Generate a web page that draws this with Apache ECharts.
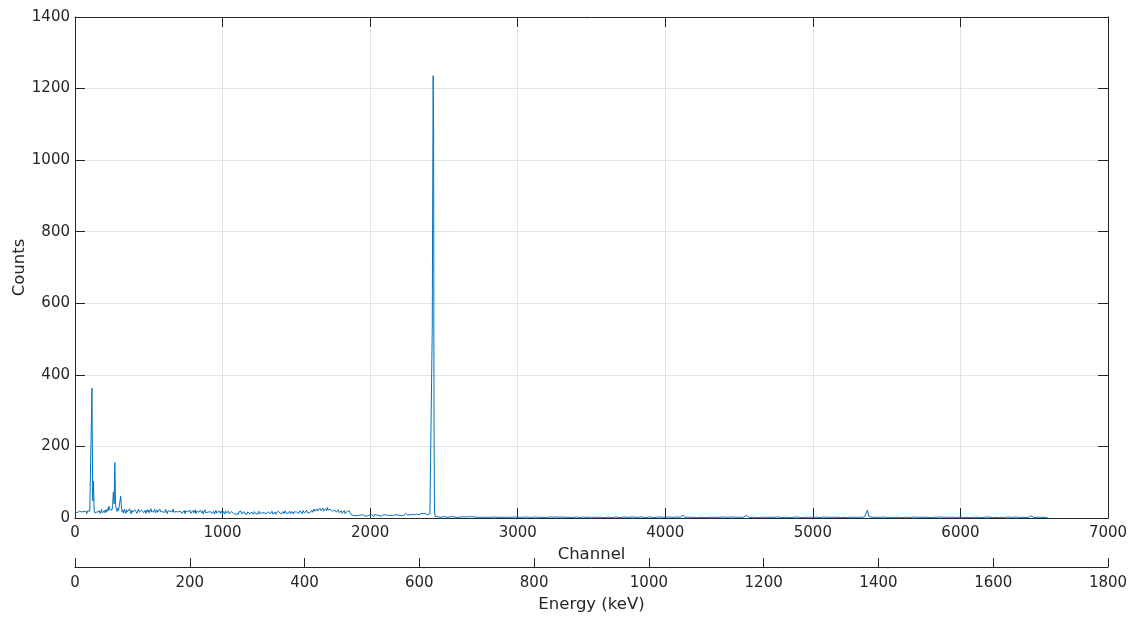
<!DOCTYPE html>
<html>
<head>
<meta charset="utf-8">
<title>Spectrum</title>
<script src="https://cdn.jsdelivr.net/npm/echarts@6/dist/echarts.min.js"></script>
<style>
  html, body { margin: 0; padding: 0; background: #ffffff; }
  #chart { width: 1137px; height: 618px; }
</style>
</head>
<body>
<div id="chart"></div>
<script>
// Low-energy part of the spectrum: channels 0 .. 2410 in 5-channel steps
const lowStart = 0;
const lowStep = 5;
const lowCounts = [
  18,13,22,15,20,12,19,24,14,17,21,13,18,23,15,19,12,20,16,22,
  19,24,16,363,48,103,21,14,19,12,17,22,15,20,13,18,24,14,19,16,
  21,14,23,17,26,20,33,24,19,27,22,35,73,40,155,36,24,18,27,21,
  17,24,61,28,16,22,14,25,19,13,23,17,21,15,26,18,12,22,16,20,
  14,23,18,21,13,19,25,16,20,12,22,17,24,15,19,21,13,18,23,16,
  22,15,20,26,17,13,21,18,24,14,19,23,16,20,12,25,18,15,22,17,
  13,21,16,24,18,12,20,23,15,19,14,22,17,25,16,13,21,18,15,20,
  17,22,14,19,24,13,18,16,21,12,20,15,23,17,14,19,22,13,18,16,
  21,14,17,23,12,19,15,20,16,13,22,18,14,20,11,17,23,15,18,13,
  16,20,12,18,15,22,13,17,19,11,16,21,14,18,12,20,15,13,19,16,
  12,18,15,11,20,14,17,13,19,12,16,10,18,14,21,12,15,17,11,16,
  14,10,17,13,16,19,11,15,13,18,12,16,14,10,17,13,19,12,15,11,
  16,13,10,18,14,12,17,15,11,19,13,16,12,14,18,10,15,13,17,12,
  15,11,17,13,16,12,14,19,11,15,13,17,10,16,14,12,18,13,15,11,
  16,13,18,12,15,20,14,11,17,13,16,19,12,15,18,14,11,17,15,13,
  17,14,19,13,16,20,15,18,12,21,16,14,19,17,22,15,18,20,14,19,
  18,22,16,21,25,19,23,17,26,20,24,18,27,21,25,22,28,19,24,21,
  26,20,29,22,25,18,24,21,27,19,23,17,22,20,16,21,18,23,15,19,
  16,20,13,18,15,21,12,17,14,19,22,18,20,14,11,8,6,9,7,5,
  8,6,10,5,7,9,6,8,4,7,9,6,8,5,10,7,6,9,5,8,
  7,5,9,6,8,4,10,7,6,8,5,9,7,6,10,5,8,6,9,7,
  6,9,5,8,7,10,6,8,5,9,7,11,6,8,7,5,9,6,10,8,
  7,9,6,10,8,7,11,9,13,17,10,8,11,7,9,12,8,10,7,11,
  9,12,8,11,10,13,9,11,8,12,10,9,13,11,8,12,10,14,9,11,
  10,12,9
];

// Main photopeak, sampled every 3 channels
const peakChannels = [2418, 2421, 2424, 2427, 2430, 2433, 2436];
const peakCounts   = [12, 534, 917, 1236, 1090, 265, 22];

// High-energy tail: channels 2440 .. 6590 in 10-channel steps
const highStart = 2440;
const highStep = 10;
const highCounts = [
  5,4,3,4,2,3,4,3,2,3,
  3,2,4,3,2,3,2,4,3,2,
  3,2,3,2,4,2,3,2,2,3,
  2,3,2,4,2,3,2,3,2,2,
  3,2,2,3,2,4,2,3,2,2,
  2,3,2,2,3,2,2,4,2,3,
  2,2,3,2,2,3,2,2,3,2,
  2,3,2,2,1,3,2,2,3,2,
  2,2,3,2,2,2,3,1,2,3,
  2,2,1,3,2,2,3,2,1,2,
  3,2,2,1,2,3,2,2,2,1,
  2,3,2,2,1,2,2,3,2,2,
  1,2,3,2,2,2,1,2,3,2,
  2,1,2,2,3,2,2,1,2,2,
  3,2,1,2,2,2,3,2,1,2,
  2,2,3,1,2,2,2,1,3,2,
  2,1,2,2,3,2,2,3,8,2,
  2,2,1,2,3,2,2,1,2,2,
  3,2,2,1,2,2,3,2,1,2,
  2,2,1,2,2,3,2,2,1,2,
  2,3,2,2,1,2,2,2,3,2,
  2,7,2,1,2,2,3,2,2,1,
  2,2,1,2,3,2,1,2,2,2,
  1,2,2,3,2,1,2,2,1,2,
  2,1,2,2,2,3,1,2,2,1,
  2,2,3,2,1,2,2,2,1,2,
  2,1,2,3,2,2,1,2,2,2,
  1,2,2,2,3,1,2,2,2,1,
  2,2,3,2,2,2,1,2,3,2,
  2,3,8,22,4,2,2,1,2,2,
  2,1,2,2,3,2,1,2,2,2,
  1,2,2,3,2,2,1,2,2,1,
  2,2,1,2,3,2,2,1,2,2,
  2,1,2,2,2,3,1,2,2,1,
  2,2,3,1,2,2,2,1,2,3,
  2,1,2,2,1,2,3,2,1,2,
  2,2,1,2,2,3,2,1,2,2,
  1,2,2,2,3,1,2,2,1,2,
  2,3,1,2,2,2,1,2,3,2,
  2,1,2,2,3,2,1,2,2,2,
  1,2,2,3,6,2,1,2,2,1,
  2,1,2,2,1,2
];

// Axis ranges and ticks
const channelRange = [0, 7000];
const channelStep = 1000;
const energyRange = [0, 1800];
const energyStep = 200;
const countRange = [0, 1400];
const countStep = 200;

// Assemble [channel, count] pairs in channel order
const spectrum = [];
lowCounts.forEach((c, i) => spectrum.push([lowStart + i * lowStep, c]));
peakChannels.forEach((ch, i) => spectrum.push([ch, peakCounts[i]]));
highCounts.forEach((c, i) => spectrum.push([highStart + i * highStep, c]));

const ink = '#262626';
const font = 'DejaVu Sans';
const plain = v => String(v);
const tickFont = { color: ink, fontFamily: font, fontSize: 15, formatter: plain };
const titleFont = { color: ink, fontFamily: font, fontSize: 16.5 };
const gridLine = { show: true, lineStyle: { color: '#e3e3e3', width: 1 } };
const frameLine = { show: true, onZero: false, lineStyle: { color: ink, width: 1 } };
const innerTick = len => ({ show: true, inside: true, length: len, lineStyle: { color: ink, width: 1 } });

const chart = echarts.init(document.getElementById('chart'), null, { renderer: 'canvas' });
chart.setOption({
  animation: false,
  backgroundColor: '#ffffff',
  grid: { left: 75, right: 29, top: 17, bottom: 100, containLabel: false, outerBoundsMode: 'none' },
  xAxis: [
    {
      type: 'value', position: 'bottom',
      min: channelRange[0], max: channelRange[1], interval: channelStep,
      name: 'Channel', nameLocation: 'middle', nameGap: 27, nameTextStyle: titleFont,
      axisLine: frameLine,
      axisTick: innerTick(10),
      axisLabel: Object.assign({ margin: 8 }, tickFont),
      splitLine: gridLine
    },
    {
      type: 'value', position: 'top',
      min: channelRange[0], max: channelRange[1], interval: channelStep,
      axisLine: frameLine,
      axisTick: innerTick(10),
      axisLabel: { show: false },
      splitLine: { show: false }
    },
    {
      type: 'value', position: 'bottom', offset: 49,
      min: energyRange[0], max: energyRange[1], interval: energyStep,
      name: 'Energy (keV)', nameLocation: 'middle', nameGap: 28, nameTextStyle: titleFont,
      axisLine: frameLine,
      axisTick: innerTick(9),
      axisLabel: Object.assign({ margin: 9 }, tickFont),
      splitLine: { show: false }
    }
  ],
  yAxis: [
    {
      type: 'value', position: 'left',
      min: countRange[0], max: countRange[1], interval: countStep,
      name: 'Counts', nameLocation: 'middle', nameGap: 47, nameMoveOverlap: false,
      nameTextStyle: titleFont,
      axisLine: frameLine,
      axisTick: innerTick(10),
      axisLabel: Object.assign({ margin: 5 }, tickFont),
      splitLine: gridLine
    },
    {
      type: 'value', position: 'right',
      min: countRange[0], max: countRange[1], interval: countStep,
      axisLine: frameLine,
      axisTick: innerTick(10),
      axisLabel: { show: false },
      splitLine: { show: false }
    }
  ],
  series: [
    {
      type: 'line',
      xAxisIndex: 0,
      yAxisIndex: 0,
      data: spectrum,
      showSymbol: false,
      sampling: 'none',
      lineStyle: { color: '#0072BD', width: 1 },
      itemStyle: { color: '#0072BD' }
    }
  ]
});
</script>
</body>
</html>
